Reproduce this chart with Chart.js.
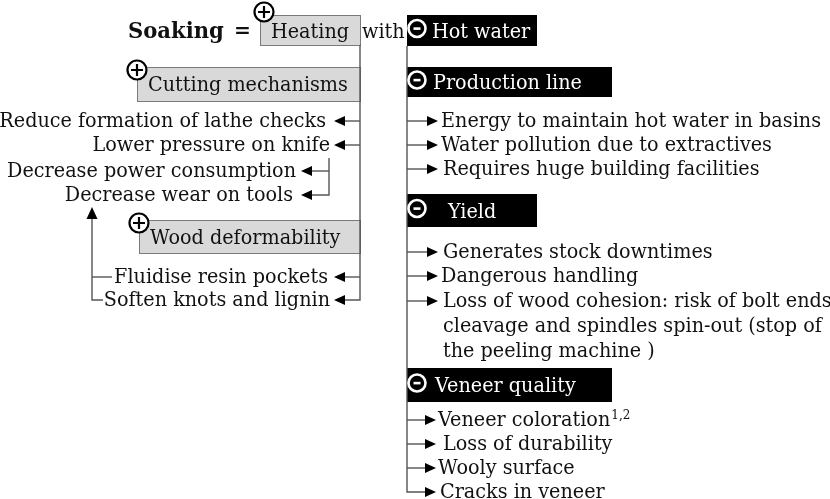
<!DOCTYPE html>
<html>
<head>
<meta charset="utf-8">
<script src="https://cdn.jsdelivr.net/npm/chart.js@4.4.0/dist/chart.umd.min.js"></script>
<style>
  html, body { margin: 0; padding: 0; background: #fff; }
  #wrap { width: 830px; height: 499px; }
</style>
</head>
<body>
<div id="wrap"><canvas id="soakChart"></canvas></div>
<script>
// --- texts ---
const headWord = "Soaking";
const rootLabel = "Heating";
const joinWord = "with";
const plusGroups = ["Cutting mechanisms", "Wood deformability"];
const minusGroups = ["Hot water", "Production line", "Yield", "Veneer quality"];
const cuttingEffects = ["Reduce formation of lathe checks", "Lower pressure on knife"];
const knifeEffects = ["Decrease power consumption", "Decrease wear on tools"];
const deformEffects = ["Fluidise resin pockets", "Soften knots and lignin"];
const productionEffects = ["Energy to maintain hot water in basins", "Water pollution due to extractives", "Requires huge building facilities"];
const yieldEffects = ["Generates stock downtimes", "Dangerous handling", "Loss of wood cohesion: risk of bolt ends", "cleavage and spindles spin-out (stop of", "the peeling machine )"];
const veneerEffects = ["Veneer coloration", "Loss of durability", "Wooly surface", "Cracks in veneer"];
const colorationNote = "1,2";

// --- layout (diagram units = pixels of the 830x499 frame) ---
const rootBox = [260, 15, 360, 45];
const plusBoxX = [137, 139];
const plusBoxY = [[67, 101], [220, 253]];
const minusBoxW = [130, 205, 130, 205];
const minusBoxY = [[15, 46], [67, 97], [194, 227], [368, 402]];
const minusTextX = [432, 433, 448, 435];
const spineLeft = 360, spineRight = 407, knifeSpine = 329, backSpine = 92;
const cuttingRowY = [121, 145], cuttingTextEnd = [326, 330];
const knifeRowY = [171, 195], knifeTextEnd = [296, 293];
const deformRowY = [277, 300], deformTextEnd = [328, 330];
const productionRowY = [121, 145, 169], productionX = [441, 441, 443];
const yieldRowY = [252, 276, 301, 326, 351], yieldX = [443, 441, 443, 443, 443];
const veneerRowY = [420, 444, 468, 492], veneerX = [438, 443, 438, 440];

const lineColor = "#555555";
const FONT = "'DejaVu Serif', 'Liberation Serif', serif";

// connector polylines as line datasets
function seg(pts) {
  return {
    data: pts.map(p => ({ x: p[0], y: p[1] })),
    showLine: true, pointRadius: 0, borderColor: lineColor, borderWidth: 1.4, tension: 0
  };
}
const links = [];
links.push(seg([[spineLeft, rootBox[3]], [spineLeft, deformRowY[1]], [336, deformRowY[1]]]));
cuttingRowY.forEach(y => links.push(seg([[spineLeft, y], [336, y]])));
links.push(seg([[spineLeft, deformRowY[0]], [336, deformRowY[0]]]));
links.push(seg([[knifeSpine, 158], [knifeSpine, knifeRowY[1]], [303, knifeRowY[1]]]));
links.push(seg([[knifeSpine, knifeRowY[0]], [303, knifeRowY[0]]]));
links.push(seg([[103, deformRowY[1]], [backSpine, deformRowY[1]], [backSpine, 215]]));
links.push(seg([[backSpine, deformRowY[0]], [112, deformRowY[0]]]));
const lastRow = veneerRowY[veneerRowY.length - 1];
links.push(seg([[spineRight, minusBoxY[0][1]], [spineRight, lastRow], [430, lastRow]]));
[productionRowY, yieldRowY.slice(0, 3), veneerRowY.slice(0, 3)].forEach(rows =>
  rows.forEach(y => links.push(seg([[spineRight, y], [430, y]]))));

const diagramPlugin = {
  id: "diagram",
  beforeDatasetsDraw(chart) {
    const ctx = chart.ctx, X = v => chart.scales.x.getPixelForValue(v), Y = v => chart.scales.y.getPixelForValue(v);
    ctx.save();
    const grey = (x0, y0, x1, y1) => {
      ctx.fillStyle = "#d9d9d9"; ctx.strokeStyle = "#7a7a7a"; ctx.lineWidth = 1;
      ctx.fillRect(X(x0), Y(y0), X(x1) - X(x0), Y(y1) - Y(y0));
      ctx.strokeRect(X(x0) + 0.5, Y(y0) + 0.5, X(x1) - X(x0), Y(y1) - Y(y0));
    };
    grey(...rootBox);
    plusBoxX.forEach((x0, i) => grey(x0, plusBoxY[i][0], spineLeft, plusBoxY[i][1]));
    ctx.fillStyle = "#000";
    minusBoxW.forEach((w, i) => {
      ctx.fillRect(X(spineRight), Y(minusBoxY[i][0]), X(spineRight + w) - X(spineRight), Y(minusBoxY[i][1]) - Y(minusBoxY[i][0]));
    });
    ctx.restore();
  },
  afterDatasetsDraw(chart) {
    const ctx = chart.ctx, X = v => chart.scales.x.getPixelForValue(v), Y = v => chart.scales.y.getPixelForValue(v);
    ctx.save();
    const base = "20px " + FONT;
    ctx.font = base;
    const sx = 380 / ctx.measureText(productionEffects[0]).width;
    function text(s, x, y, align, color, font) {
      ctx.save();
      ctx.font = font || base;
      ctx.fillStyle = color || "#111";
      ctx.textBaseline = "alphabetic";
      const w = ctx.measureText(s).width * sx;
      const left = align === "right" ? X(x) - w : X(x);
      ctx.translate(left, Y(y));
      ctx.scale(sx, 1);
      ctx.fillText(s, 0, 0);
      ctx.restore();
      return left + w;
    }
    function head(tip, y, dir) {
      ctx.fillStyle = "#000";
      ctx.beginPath();
      ctx.moveTo(X(tip), Y(y));
      ctx.lineTo(X(tip) - dir * 11, Y(y) - 5);
      ctx.lineTo(X(tip) - dir * 11, Y(y) + 5);
      ctx.closePath(); ctx.fill();
    }
    function plus(cx, cy) {
      ctx.beginPath(); ctx.arc(X(cx), Y(cy), 9.5, 0, Math.PI * 2);
      ctx.fillStyle = "#fff"; ctx.fill();
      ctx.strokeStyle = "#000"; ctx.lineWidth = 2.2; ctx.stroke();
      ctx.beginPath();
      ctx.moveTo(X(cx) - 6, Y(cy)); ctx.lineTo(X(cx) + 6, Y(cy));
      ctx.moveTo(X(cx), Y(cy) - 6); ctx.lineTo(X(cx), Y(cy) + 6);
      ctx.stroke();
    }
    function minus(cx, cy) {
      ctx.beginPath(); ctx.arc(X(cx), Y(cy), 8.5, 0, Math.PI * 2);
      ctx.strokeStyle = "#fff"; ctx.lineWidth = 2.6; ctx.stroke();
      ctx.fillStyle = "#fff";
      ctx.fillRect(X(cx) - 3.5, Y(cy) - 1.2, 7, 2.6);
    }

    // title row
    text(headWord, 128, 38, "left", "#111", "bold 22px " + FONT);
    text("=", 234, 37, "left", "#111", "bold 21px " + FONT);
    text(rootLabel, 271, 38);
    text(joinWord, 362, 38);
    plus(264, 12);

    // positive groups (left)
    plusGroups.forEach((g, i) => {
      const yc = (plusBoxY[i][0] + plusBoxY[i][1]) / 2;
      text(g, plusBoxX[i] + 11, yc + 7);
      plus(plusBoxX[i], plusBoxY[i][0] + 3);
    });
    cuttingEffects.forEach((s, i) => { text(s, cuttingTextEnd[i], cuttingRowY[i] + 6, "right"); head(334, cuttingRowY[i], -1); });
    knifeEffects.forEach((s, i) => { text(s, knifeTextEnd[i], knifeRowY[i] + 6, "right"); head(301, knifeRowY[i], -1); });
    deformEffects.forEach((s, i) => { text(s, deformTextEnd[i], deformRowY[i] + 6, "right"); head(334, deformRowY[i], -1); });
    ctx.beginPath();
    ctx.moveTo(X(backSpine), Y(207));
    ctx.lineTo(X(backSpine) - 5.5, Y(219));
    ctx.lineTo(X(backSpine) + 5.5, Y(219));
    ctx.closePath(); ctx.fillStyle = "#000"; ctx.fill();

    // negative groups (right)
    minusGroups.forEach((g, i) => {
      const yc = (minusBoxY[i][0] + minusBoxY[i][1]) / 2;
      text(g, minusTextX[i], yc + 7, "left", "#fff");
      minus(417, yc - 2);
    });
    productionEffects.forEach((s, i) => { text(s, productionX[i], productionRowY[i] + 6); head(438, productionRowY[i], 1); });
    yieldEffects.forEach((s, i) => { text(s, yieldX[i], yieldRowY[i] + 6); if (i < 3) head(438, yieldRowY[i], 1); });
    veneerEffects.forEach((s, i) => {
      const end = text(s, veneerX[i], veneerRowY[i] + 6);
      head(436, veneerRowY[i], 1);
      if (i === 0) {
        ctx.save(); ctx.font = "12px " + FONT; ctx.fillStyle = "#111";
        ctx.fillText(colorationNote, end + 1, Y(veneerRowY[i] - 1)); ctx.restore();
      }
    });
    ctx.restore();
  }
};

const soakConfig = {
  type: "scatter",
  data: { datasets: links },
  options: {
    responsive: true,
    maintainAspectRatio: false,
    animation: false,
    layout: { padding: 0 },
    plugins: { legend: { display: false }, tooltip: { enabled: false } },
    scales: {
      x: { type: "linear", min: 0, max: 830, display: false },
      y: { type: "linear", min: 0, max: 499, reverse: true, display: false }
    }
  },
  plugins: [diagramPlugin]
};

const soakCtx = document.getElementById("soakChart");
window.soakChart = new Chart(soakCtx, soakConfig);
</script>
</body>
</html>
